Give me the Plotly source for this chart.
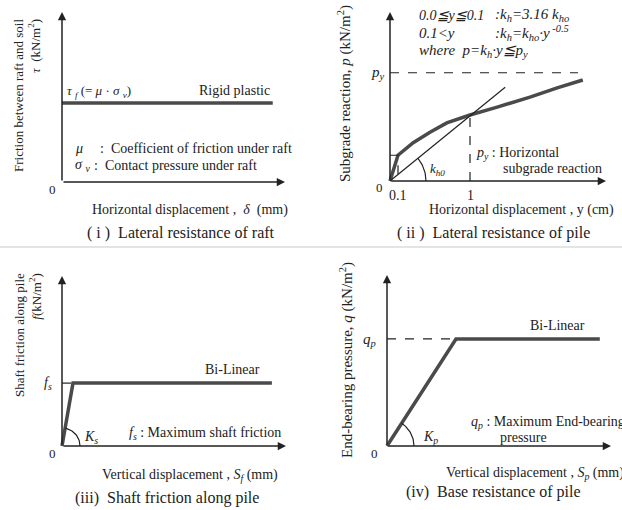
import numpy as np
import plotly.graph_objects as go

W, H = 622, 510
FONT = "Liberation Serif"
INK = "#222222"
CURVE = "#4a4a4a"

# ---------------- data (schematic values) ----------------
# (i) lateral resistance of raft: rigid plastic
raft_disp = [0.0, 9.45]
raft_tau = [4.65, 4.65]

# (ii) lateral resistance of pile
pile_y = [0.0, 0.1, 0.29, 0.5, 0.71, 1.0, 1.34, 1.75, 2.09, 2.41]
pile_p = [0.0, 0.39, 0.58, 0.74, 0.88, 1.0, 1.12, 1.27, 1.41, 1.53]
kh0_y = [0.0, 1.44]
kh0_p = [0.0, 1.42]
py_level = 1.64
py_extent = 2.35
pile_ticks = [0.1, 1.0]
pile_tick_text = ["0.1", "1"]

# (iii) shaft friction along pile: bi-linear
shaft_disp = [0.0, 0.49, 9.37]
shaft_f = [0.0, 3.7, 3.7]

# (iv) base resistance of pile: bi-linear
base_disp = [0.0, 3.08, 9.5]
base_q = [0.0, 6.26, 6.26]

# ---------------- layout geometry (pixels) ----------------
PAD = 6
panels = {
    1: dict(x0=62, y0=182, x1=285, y1=12, xmax=10.0, ymax=10.0),
    2: dict(x0=390, y0=181, x1=606, y1=12, xmax=2.7, ymax=2.56),
    3: dict(x0=62, y0=446, x1=286, y1=276, xmax=10.0, ymax=10.0),
    4: dict(x0=387, y0=446, x1=611, y1=275, xmax=10.0, ymax=10.0),
}


def px(x, y):
    return x / W, 1 - y / H


fig = go.Figure()
layout_axes = {}
for i, g in panels.items():
    sx = (g["x1"] - g["x0"]) / g["xmax"]
    sy = (g["y0"] - g["y1"]) / g["ymax"]
    g["sx"], g["sy"] = sx, sy
    xs = "" if i == 1 else str(i)
    layout_axes["xaxis" + xs] = dict(
        domain=[(g["x0"] - PAD) / W, (g["x1"] + PAD) / W],
        range=[-PAD / sx, g["xmax"] + PAD / sx],
        visible=False, anchor="y" + xs, fixedrange=True)
    layout_axes["yaxis" + xs] = dict(
        domain=[1 - (g["y0"] + PAD) / H, 1 - (g["y1"] - PAD) / H],
        range=[-PAD / sy, g["ymax"] + PAD / sy],
        visible=False, anchor="x" + xs, fixedrange=True)
fig.update_layout(**layout_axes)


def ax_ids(i):
    s = "" if i == 1 else str(i)
    return "x" + s, "y" + s


def line(i, x, y, color=CURVE, width=3.5, dash="solid"):
    xa, ya = ax_ids(i)
    fig.add_trace(go.Scatter(x=x, y=y, mode="lines", xaxis=xa, yaxis=ya,
                             line=dict(color=color, width=width, dash=dash),
                             hoverinfo="skip", showlegend=False))


def arc(i, x_end, y_end, r_px):
    g = panels[i]
    theta = np.arctan2(y_end * g["sy"], x_end * g["sx"])
    t = np.linspace(0, theta, 30)
    line(i, r_px * np.cos(t) / g["sx"], r_px * np.sin(t) / g["sy"],
         color=INK, width=1.2)


annotations = []


def axis_arrows(i):
    g = panels[i]
    xa, ya = ax_ids(i)
    for (x, y) in [(g["xmax"], 0), (0, g["ymax"])]:
        annotations.append(dict(x=x, y=y, ax=0, ay=0, xref=xa, yref=ya,
                                axref=xa, ayref=ya, text="", showarrow=True,
                                arrowhead=2, arrowsize=1.1, arrowwidth=1.5,
                                arrowcolor=INK, standoff=0, startstandoff=0))


def text(x, y, s, size=14, anchor="left", angle=0, align="left"):
    xp, yp = px(x, y)
    annotations.append(dict(x=xp, y=yp, xref="paper", yref="paper", text=s,
                            showarrow=False, xanchor=anchor, yanchor="middle",
                            textangle=angle, align=align,
                            font=dict(family=FONT, size=size, color=INK)))


for i in panels:
    axis_arrows(i)

# ---- panel (i)
line(1, raft_disp, raft_tau)
text(52, 189, "0", 13, "center")
text(65, 91, "<i>τ</i> <i><sub>f</sub></i> (= <i>μ</i> · <i>σ</i> <i><sub>v</sub></i>)", 13)
text(197, 90, "Rigid plastic", 14)
text(73, 148, "<i>μ</i>", 14)
text(98, 148, ":  Coefficient of friction under raft", 14)
text(73, 166, "<i>σ</i> <i><sub>v</sub></i>", 14)
text(92, 166, ":  Contact pressure under raft", 14)
text(90, 210, "Horizontal displacement ,  <i>δ</i>  (mm)", 14)
text(181, 233, "( i )  Lateral resistance of raft", 16, "center")
text(27, 96, "Friction between raft and soil<br><i>τ</i>  (kN/m<sup>2</sup>)", 13,
     "center", -90, "right")

# ---- panel (ii)
line(2, pile_y, pile_p)
line(2, kh0_y, kh0_p, color=INK, width=1.2)
line(2, [0, py_extent], [py_level, py_level], color=INK, width=1.2, dash="dash")
p_at_1 = pile_p[pile_y.index(1.0)]
p_at_01 = pile_p[pile_y.index(0.1)]
line(2, [1.0, 1.0], [0, p_at_1], color=INK, width=1.2, dash="dash")
line(2, [0, 0.1, 0.1], [p_at_01, p_at_01, 0], color=INK, width=1.2, dash="dash")
arc(2, kh0_y[1], kh0_p[1], 36)
for tv, tt in zip(pile_ticks, pile_tick_text):
    annotations.append(dict(x=tv, y=px(0, 195)[1], xref="x2", yref="paper",
                            text=tt, showarrow=False, xanchor="center",
                            yanchor="middle",
                            font=dict(family=FONT, size=14, color=INK)))
text(379, 187, "0", 13, "center")
text(378, 73, "<i>p<sub>y</sub></i>", 15, "center")
text(417, 15, "<i>0.0≦y≦0.1</i>", 14)
text(493, 15, "<i>:k<sub>h</sub>=3.16 k<sub>ho</sub></i>", 15)
text(417, 33, "<i>0.1&lt;y</i>", 15)
text(493, 33, "<i>:k<sub>h</sub>=k<sub>ho</sub>·y<sup> -0.5</sup></i>", 15)
text(417, 51, "<i>where  p=k<sub>h</sub>·y≦p<sub>y</sub></i>", 15)
text(428, 170, "<i>k<sub>h0</sub></i>", 13)
text(474, 153, "<i>p<sub>y</sub></i> : Horizontal", 14)
text(501, 169, "subgrade reaction", 14)
text(344, 94, "Subgrade reaction, <i>p</i> (kN/m<sup>2</sup>)", 15, "center", -90)
text(427, 210, "Horizontal displacement , y (cm)", 14)
text(494, 233, "( ii )  Lateral resistance of pile", 16, "center")

# ---- panel (iii)
line(3, shaft_disp, shaft_f)
line(3, [0, shaft_disp[1]], [shaft_f[1], shaft_f[1]], color=INK, width=1.2, dash="dash")
arc(3, shaft_disp[1], shaft_f[1], 18)
text(52, 453, "0", 13, "center")
text(48, 383, "<i>f<sub>s</sub></i>", 14, "center")
text(203, 369, "Bi-Linear", 14)
text(82, 437, "<i>K<sub>s</sub></i>", 14)
text(127, 433, "<i>f<sub>s</sub></i> : Maximum shaft friction", 14)
text(100, 475, "Vertical displacement , <i>S<sub>f</sub></i> (mm)", 14)
text(167, 498, "(iii)  Shaft friction along pile", 16, "center")
text(28, 335, "Shaft friction along pile<br><i>f</i>(kN/m<sup>2</sup>)", 13,
     "center", -90, "right")

# ---- panel (iv)
line(4, base_disp, base_q)
line(4, [0, base_disp[1]], [base_q[1], base_q[1]], color=INK, width=1.2, dash="dash")
arc(4, base_disp[1], base_q[1], 27)
text(374, 453, "0", 13, "center")
text(369, 340, "<i>q<sub>p</sub></i>", 15, "center")
text(528, 325, "Bi-Linear", 14)
text(421, 437, "<i>K<sub>p</sub></i>", 14)
text(469, 422, "<i>q<sub>p</sub></i> : Maximum End-bearing", 14)
text(498, 437, "pressure", 14)
text(444, 473, "Vertical displacement , <i>S<sub>p</sub></i> (mm)", 14)
text(494, 492, "(iv)  Base resistance of pile", 16, "center")
text(346, 360, "End-bearing pressure, <i>q</i> (kN/m<sup>2</sup>)", 15, "center", -90)

fig.update_layout(
    width=W, height=H, margin=dict(l=0, r=0, t=0, b=0),
    paper_bgcolor="white", plot_bgcolor="rgba(0,0,0,0)",
    showlegend=False, annotations=annotations,
    shapes=[dict(type="line", xref="paper", yref="paper", x0=0, x1=1,
                 y0=1 - 247 / H, y1=1 - 247 / H,
                 line=dict(color="#e4e4e4", width=2))],
)
fig.write_html("out.html")
